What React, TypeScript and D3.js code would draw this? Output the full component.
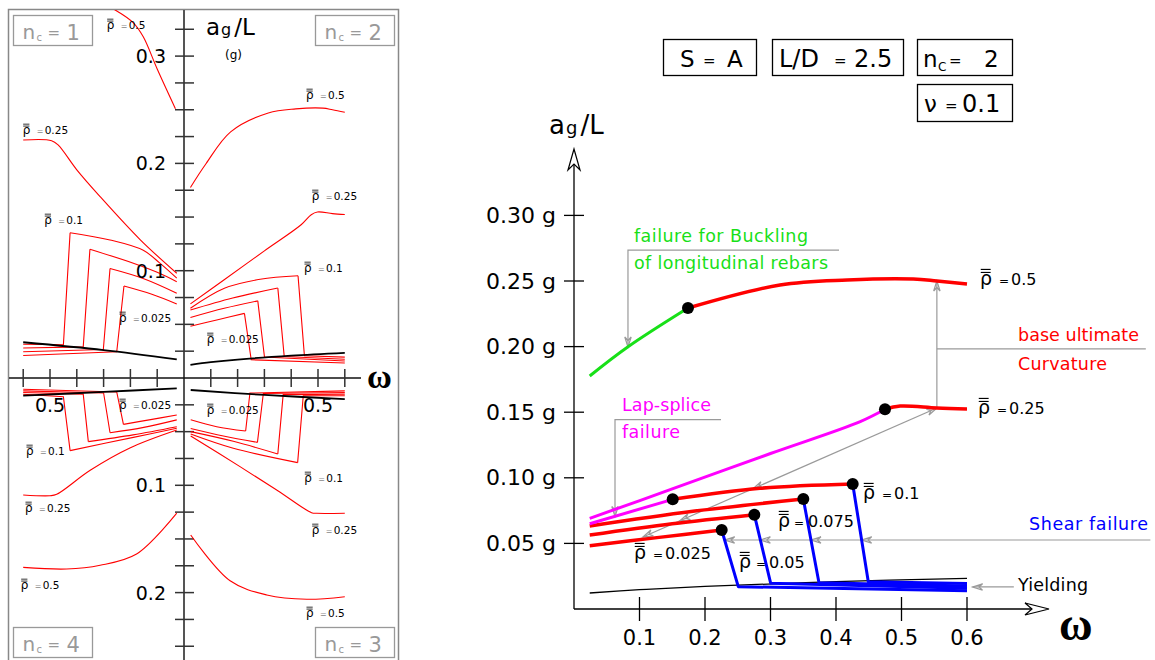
import React from 'react';
import * as d3 from 'd3';

type P = [number, number];

const SANS = '"DejaVu Sans", Verdana, sans-serif';
const SERIF = '"Liberation Serif", "DejaVu Serif", serif';
const GRAY = '#9a9a9a';
const RED = '#ff0000';
const GREEN = '#18e018';
const MAGENTA = '#ff00ff';
const BLUE = '#0000ff';

// ---------------- Right panel (S = A, L/D = 2.5, n_c = 2, nu = 0.1) ----------------
const omegaTicks = [0.1, 0.2, 0.3, 0.4, 0.5, 0.6];
const omegaTickLabels = ['0.1', '0.2', '0.3', '0.4', '0.5', '0.6'];
const agTicks = [0.05, 0.1, 0.15, 0.2, 0.25, 0.3];
const agTickLabels = ['0.05 g', '0.10 g', '0.15 g', '0.20 g', '0.25 g', '0.30 g'];

const rho05Buckling: P[] = [[0.024, 0.1776], [0.082, 0.1997], [0.174, 0.2294]];
const rho05Ultimate: P[] = [[0.174, 0.2294], [0.3145, 0.247], [0.417, 0.2508], [0.518, 0.2515], [0.554, 0.25], [0.6, 0.2477]];
const rho025Lap: P[] = [[0.024, 0.0691], [0.15, 0.0915], [0.3, 0.1185], [0.437, 0.1428], [0.4748, 0.1522]];
const rho025Ultimate: P[] = [[0.4748, 0.1522], [0.498, 0.1547], [0.554, 0.1532], [0.6, 0.1524]];
const rho01Lap: P[] = [[0.024, 0.065], [0.1507, 0.0836]];
const rho01Ultimate: P[] = [[0.1507, 0.0836], [0.284, 0.092], [0.4255, 0.0953]];
const rho0075Ultimate: P[] = [[0.024, 0.0633], [0.1817, 0.0745], [0.3501, 0.0838]];
const rho005Ultimate: P[] = [[0.024, 0.0564], [0.15, 0.065], [0.2753, 0.0719]];
const rho0025Ultimate: P[] = [[0.024, 0.0482], [0.13, 0.0546], [0.2255, 0.0602]];
const shear01: P[] = [[0.4255, 0.0953], [0.4493, 0.0208], [0.6, 0.0195]];
const shear0075: P[] = [[0.3501, 0.0838], [0.374, 0.02], [0.6, 0.0175]];
const shear005: P[] = [[0.2753, 0.0719], [0.3003, 0.0196], [0.6, 0.0158]];
const shear0025: P[] = [[0.2255, 0.0602], [0.2508, 0.017], [0.6, 0.014]];
const yieldingLine: P[] = [[0.024, 0.0122], [0.1, 0.0147], [0.2, 0.0172], [0.4, 0.0208], [0.6, 0.0234]];
const failureDots: P[] = [[0.174, 0.2294], [0.4748, 0.1522], [0.1507, 0.0836], [0.4255, 0.0953], [0.3501, 0.0838], [0.2753, 0.0719], [0.2255, 0.0602]];

// annotation anchors (data units)
const bucklingLeader: P[] = [[0.4046, 0.2736], [0.0824, 0.2736], [0.0824, 0.1997]];
const lapLeader: P[] = [[0.2244, 0.1444], [0.0626, 0.1444], [0.0626, 0.0705]];
const curvatureLeader: P[] = [[0.554, 0.1532], [0.554, 0.25]];
const curvatureShelf: P[] = [[0.554, 0.1982], [0.873, 0.1982]];
const diagonalLeader: P[] = [[0.1053, 0.0549], [0.554, 0.1532]];
const diagonalArrowOmegas = [0.1053, 0.1618, 0.2733];
const shearLeaderLevel = 0.0526;
const shearLeaderEnd = 0.88;
const yieldingArrow: P[] = [[0.6715, 0.0168], [0.6085, 0.0168]];

// ---------------- Left panel (four n_c quadrants) ----------------
const leftOmegaTicks = [0.1, 0.2, 0.3, 0.4, 0.5, 0.6];
const leftAgTicksUpper = [0.025, 0.05, 0.075, 0.1, 0.125, 0.15, 0.175, 0.2, 0.225, 0.25, 0.275, 0.3, 0.325];
const leftAgTicksLower = [0.025, 0.05, 0.075, 0.1, 0.125, 0.15, 0.175, 0.2, 0.225, 0.25];
const leftAgLabelsUpper = [0.1, 0.2, 0.3];
const leftAgLabelsLower = [0.1, 0.2];

// n_c = 1 (upper left)
const nc1Rho05: P[] = [[0.032, 0.251], [0.1, 0.288], [0.152, 0.318], [0.189, 0.331], [0.257, 0.343], [0.29, 0.347]];
const nc1Rho025: P[] = [[0.027, 0.0976], [0.164, 0.129], [0.313, 0.169], [0.4, 0.194], [0.469, 0.217], [0.494, 0.2212], [0.6, 0.2218]];
const nc1Rho01: P[] = [[0.027, 0.093], [0.09, 0.107], [0.152, 0.119], [0.276, 0.1286], [0.425, 0.1354], [0.45, 0.031], [0.6, 0.0315]];
const nc1Rho0075: P[] = [[0.027, 0.0898], [0.1, 0.0985], [0.189, 0.107], [0.351, 0.12], [0.376, 0.029], [0.6, 0.028]];
const nc1Rho005: P[] = [[0.027, 0.079], [0.15, 0.0925], [0.276, 0.102], [0.301, 0.0265], [0.6, 0.0245]];
const nc1Rho0025: P[] = [[0.027, 0.069], [0.12, 0.078], [0.224, 0.0857], [0.251, 0.0245], [0.6, 0.021]];
const nc1Yielding: P[] = [[0.027, 0.0174], [0.3, 0.026], [0.6, 0.0333]];

// n_c = 4 (lower left)
const nc4Rho05: P[] = [[0.027, 0.126], [0.177, 0.164], [0.313, 0.1745], [0.438, 0.178], [0.6, 0.1765]];
const nc4Rho025: P[] = [[0.027, 0.0485], [0.2, 0.065], [0.35, 0.086], [0.475, 0.1084], [0.5, 0.1097], [0.6, 0.109]];
const nc4Rho01: P[] = [[0.027, 0.0469], [0.189, 0.0553], [0.425, 0.0677], [0.45, 0.0174], [0.6, 0.0152]];
const nc4Rho0075: P[] = [[0.027, 0.0454], [0.19, 0.053], [0.357, 0.0593], [0.376, 0.015], [0.6, 0.0135]];
const nc4Rho005: P[] = [[0.027, 0.039], [0.15, 0.046], [0.276, 0.051], [0.3, 0.014], [0.6, 0.012]];
const nc4Rho0025: P[] = [[0.027, 0.0345], [0.13, 0.039], [0.226, 0.0432], [0.251, 0.013], [0.6, 0.0105]];
const nc4Yielding: P[] = [[0.027, 0.0096], [0.3, 0.013], [0.6, 0.0165]];

// n_c = 3 (lower right)
const nc3Rho05: P[] = [[0.025, 0.1463], [0.172, 0.189], [0.309, 0.2022], [0.458, 0.2062], [0.6, 0.2038]];
const nc3Rho025: P[] = [[0.025, 0.054], [0.209, 0.0826], [0.35, 0.105], [0.476, 0.1255], [0.495, 0.1261], [0.6, 0.126]];
const nc3Rho01: P[] = [[0.025, 0.0522], [0.184, 0.0655], [0.424, 0.0789], [0.445, 0.0165], [0.6, 0.0165]];
const nc3Rho0075: P[] = [[0.025, 0.05], [0.184, 0.059], [0.35, 0.0708], [0.37, 0.0155], [0.6, 0.015]];
const nc3Rho005: P[] = [[0.025, 0.047], [0.147, 0.054], [0.274, 0.06], [0.296, 0.0145], [0.6, 0.0135]];
const nc3Rho0025: P[] = [[0.025, 0.039], [0.122, 0.0454], [0.23, 0.0494], [0.246, 0.014], [0.6, 0.012]];
const nc3Yielding: P[] = [[0.025, 0.0112], [0.3, 0.0158], [0.6, 0.0196]];

// n_c = 2 (upper right) reuses the right-panel curves
const nc2Rho05: P[] = [...rho05Buckling, ...rho05Ultimate.slice(1)];
const nc2Rho025: P[] = [...rho025Lap, ...rho025Ultimate.slice(1)];
const nc2Rho01: P[] = [...rho01Lap, ...rho01Ultimate.slice(1), ...shear01.slice(1)];
const nc2Rho0075: P[] = [...rho0075Ultimate, ...shear0075.slice(1)];
const nc2Rho005: P[] = [...rho005Ultimate, ...shear005.slice(1)];
const nc2Rho0025: P[] = [...rho0025Ultimate, ...shear0025.slice(1)];

function arrowHead(tx: number, ty: number, angle: number, len = 10, half = 3.2) {
  const ux = Math.cos(angle), uy = Math.sin(angle);
  const px = -uy, py = ux;
  const bx = tx - ux * len, by = ty - uy * len;
  const nx = tx - ux * len * 0.65, ny = ty - uy * len * 0.65;
  return `M${bx + px * half},${by + py * half}L${tx},${ty}L${bx - px * half},${by - py * half}L${nx},${ny}Z`;
}

function Rho({ x, y, rs, vs, es, val, eqDx, valDx, eqFill = '#000' }: { x: number; y: number; rs: number; vs: number; es: number; val: string; eqDx: number; valDx: number; eqFill?: string }) {
  const w = rs * 0.56;
  return (
    <g fontFamily={SANS}>
      <text x={x} y={y} fontSize={rs}>ρ</text>
      <line x1={x + rs * 0.04} x2={x + w} y1={y - rs * 0.66} y2={y - rs * 0.66} stroke="#000" strokeWidth={Math.max(0.8, rs * 0.06)} />
      <line x1={x + rs * 0.04} x2={x + w} y1={y - rs * 0.82} y2={y - rs * 0.82} stroke="#000" strokeWidth={Math.max(0.8, rs * 0.06)} />
      <text x={x + eqDx} y={y - 0.5} fontSize={es} fill={eqFill}>=</text>
      <text x={x + valDx} y={y} fontSize={vs}>{val}</text>
    </g>
  );
}

export default function App() {
  // ---------- right panel scales ----------
  const xR = d3.scaleLinear().domain([0, 0.6]).range([574, 967]);
  const yR = d3.scaleLinear().domain([0, 0.3]).range([609, 215.4]);
  const smoothR = (pts: P[]) => d3.line<P>().x(d => xR(d[0])).y(d => yR(d[1])).curve(d3.curveCatmullRom.alpha(0.5))(pts) ?? '';
  const linR = (pts: P[]) => d3.line<P>().x(d => xR(d[0])).y(d => yR(d[1]))(pts) ?? '';

  // ---------- left panel scales ----------
  const LX0 = 184, LY0 = 378;
  const quad = (sx: number, sy: number) => ({
    x: d3.scaleLinear().domain([0, 0.6]).range([LX0, LX0 + sx * 160.8]),
    y: d3.scaleLinear().domain([0, 0.3]).range([LY0, LY0 - sy * 321.9]),
  });
  const Q1 = quad(1, 1), Q2 = quad(-1, 1), Q3 = quad(-1, -1), Q4 = quad(1, -1);
  type Q = ReturnType<typeof quad>;
  const smoothL = (q: Q, pts: P[]) => d3.line<P>().x(d => q.x(d[0])).y(d => q.y(d[1])).curve(d3.curveCatmullRom.alpha(0.5))(pts) ?? '';
  const linL = (q: Q, pts: P[]) => d3.line<P>().x(d => q.x(d[0])).y(d => q.y(d[1]))(pts) ?? '';

  const quadrants: { q: Q; rho05: P[]; rho025: P[]; hooks: P[][]; yld: P[] }[] = [
    { q: Q1, rho05: nc2Rho05, rho025: nc2Rho025, hooks: [nc2Rho01, nc2Rho0075, nc2Rho005, nc2Rho0025], yld: yieldingLine },
    { q: Q2, rho05: nc1Rho05, rho025: nc1Rho025, hooks: [nc1Rho01, nc1Rho0075, nc1Rho005, nc1Rho0025], yld: nc1Yielding },
    { q: Q3, rho05: nc4Rho05, rho025: nc4Rho025, hooks: [nc4Rho01, nc4Rho0075, nc4Rho005, nc4Rho0025], yld: nc4Yielding },
    { q: Q4, rho05: nc3Rho05, rho025: nc3Rho025, hooks: [nc3Rho01, nc3Rho0075, nc3Rho005, nc3Rho0025], yld: nc3Yielding },
  ];

  // shear leader arrow positions: where each blue shear line crosses the leader level
  const shearCross = [shear0025, shear005, shear0075, shear01].map(s => {
    const [a, b] = s;
    const t = (a[1] - shearLeaderLevel) / (a[1] - b[1]);
    return a[0] + t * (b[0] - a[0]);
  });

  const diagAngle = Math.atan2(yR(diagonalLeader[0][1]) - yR(diagonalLeader[1][1]), xR(diagonalLeader[0][0]) - xR(diagonalLeader[1][0]));
  const diagA = (w: number) => diagonalLeader[0][1] + (w - diagonalLeader[0][0]) * (diagonalLeader[1][1] - diagonalLeader[0][1]) / (diagonalLeader[1][0] - diagonalLeader[0][0]);

  const ncBox = (x: number, y: number, label: string) => (
    <g fill="#999" fontFamily={SANS}>
      <rect x={x} y={y} width={79} height={30} fill="#fff" stroke="#999" strokeWidth={1.3} />
      <text x={x + 9} y={y + 23} fontSize={20}>n</text>
      <text x={x + 23} y={y + 25} fontSize={10}>c</text>
      <text x={x + 34} y={y + 22} fontSize={15}>=</text>
      <text x={x + 53} y={y + 24} fontSize={21}>{label}</text>
    </g>
  );

  return (
    <svg width={1155} height={660} style={{ position: 'absolute', left: 0, top: 0, background: '#fff' }} fontFamily={SANS}>
      <defs>
        <clipPath id="leftClip">
          <rect x={9} y={10} width={389} height={660} />
        </clipPath>
      </defs>
      <rect x={0} y={0} width={1155} height={660} fill="#fff" />

      {/* ================= LEFT PANEL ================= */}
      <rect x={8.5} y={9.5} width={390} height={670} fill="none" stroke="#888" strokeWidth={1.5} />
      <g clipPath="url(#leftClip)">
        {/* axes */}
        <line x1={LX0} x2={LX0} y1={9} y2={660} stroke="#555" strokeWidth={2} />
        <line x1={8} x2={361} y1={LY0} y2={LY0} stroke="#111" strokeWidth={1.5} />
        {leftAgTicksUpper.map(a => (
          <line key={'tu' + a} x1={175} x2={194} y1={Q1.y(a)} y2={Q1.y(a)} stroke="#333" strokeWidth={1.5} />
        ))}
        {leftAgTicksLower.map(a => (
          <line key={'tl' + a} x1={175} x2={194} y1={Q4.y(a)} y2={Q4.y(a)} stroke="#333" strokeWidth={1.5} />
        ))}
        {leftOmegaTicks.map(w => (
          <g key={'wt' + w}>
            <line x1={Q1.x(w)} x2={Q1.x(w)} y1={369} y2={387} stroke="#333" strokeWidth={1.5} />
            <line x1={Q2.x(w)} x2={Q2.x(w)} y1={369} y2={387} stroke="#333" strokeWidth={1.5} />
          </g>
        ))}
        {/* curves */}
        {quadrants.map((qd, i) => (
          <g key={'q' + i} fill="none">
            <path d={smoothL(qd.q, qd.rho05)} stroke={RED} strokeWidth={1.1} />
            <path d={smoothL(qd.q, qd.rho025)} stroke={RED} strokeWidth={1.1} />
            {qd.hooks.map((h, j) => (
              <g key={'h' + j}>
                <path d={smoothL(qd.q, h.slice(0, h.length - 2))} stroke={RED} strokeWidth={1.1} />
                <path d={linL(qd.q, h.slice(h.length - 3))} stroke={RED} strokeWidth={1.1} />
              </g>
            ))}
            <path d={smoothL(qd.q, qd.yld)} stroke="#000" strokeWidth={1.8} />
          </g>
        ))}
        {/* tick labels */}
        {leftAgLabelsUpper.map(a => (
          <text key={'lu' + a} x={166} y={Q1.y(a) + 7} fontSize={19} textAnchor="end">{a.toFixed(1)}</text>
        ))}
        {leftAgLabelsLower.map(a => (
          <text key={'ll' + a} x={166} y={Q4.y(a) + 7} fontSize={19} textAnchor="end">{a.toFixed(1)}</text>
        ))}
        <text x={Q2.x(0.5)} y={412} fontSize={19} textAnchor="middle">0.5</text>
        <text x={Q1.x(0.5)} y={412} fontSize={19} textAnchor="middle">0.5</text>
        <text x={367} y={388} fontSize={34} fontFamily={SERIF} fontWeight="bold">ω</text>

        {/* title a_g / L */}
        <text x={206} y={35} fontSize={23}>a<tspan fontSize={16} dx={1}>g</tspan><tspan fontSize={23} dx={3}>/L</tspan></text>
        <text x={225} y={59} fontSize={12}>(g)</text>

        {/* rho labels */}
        <Rho x={106.7} y={29} rs={12} vs={10.5} es={8} eqFill="#888" eqDx={14} valDx={22} val="0.5" />
        <Rho x={22.7} y={134} rs={12} vs={10.5} es={8} eqFill="#888" eqDx={14} valDx={22} val="0.25" />
        <Rho x={44.3} y={224} rs={12} vs={10.5} es={8} eqFill="#888" eqDx={14} valDx={22} val="0.1" />
        <Rho x={119} y={322} rs={12} vs={10.5} es={8} eqFill="#888" eqDx={14} valDx={22} val="0.025" />
        <Rho x={306} y={99} rs={12} vs={10.5} es={8} eqFill="#888" eqDx={14} valDx={22} val="0.5" />
        <Rho x={311.7} y={200} rs={12} vs={10.5} es={8} eqFill="#888" eqDx={14} valDx={22} val="0.25" />
        <Rho x={304} y={272} rs={12} vs={10.5} es={8} eqFill="#888" eqDx={14} valDx={22} val="0.1" />
        <Rho x={206.7} y={343} rs={12} vs={10.5} es={8} eqFill="#888" eqDx={14} valDx={22} val="0.025" />
        <Rho x={119} y={409} rs={12} vs={10.5} es={8} eqFill="#888" eqDx={14} valDx={22} val="0.025" />
        <Rho x={206.7} y={414} rs={12} vs={10.5} es={8} eqFill="#888" eqDx={14} valDx={22} val="0.025" />
        <Rho x={26} y={455} rs={12} vs={10.5} es={8} eqFill="#888" eqDx={14} valDx={22} val="0.1" />
        <Rho x={25} y={512} rs={12} vs={10.5} es={8} eqFill="#888" eqDx={14} valDx={22} val="0.25" />
        <Rho x={20.7} y={589} rs={12} vs={10.5} es={8} eqFill="#888" eqDx={14} valDx={22} val="0.5" />
        <Rho x={304.3} y={482} rs={12} vs={10.5} es={8} eqFill="#888" eqDx={14} valDx={22} val="0.1" />
        <Rho x={311.7} y={534} rs={12} vs={10.5} es={8} eqFill="#888" eqDx={14} valDx={22} val="0.25" />
        <Rho x={306} y={617} rs={12} vs={10.5} es={8} eqFill="#888" eqDx={14} valDx={22} val="0.5" />

        {ncBox(13.5, 15.5, '1')}
        {ncBox(315.5, 15.5, '2')}
        {ncBox(13.5, 627.5, '4')}
        {ncBox(315.5, 627.5, '3')}
      </g>

      {/* ================= RIGHT PANEL ================= */}
      {/* parameter boxes */}
      <g fontFamily={SANS} fill="#000">
        <rect x={663.5} y={39.5} width={93} height={36} fill="none" stroke="#000" strokeWidth={1.3} />
        <text x={680} y={67} fontSize={23}>S</text>
        <text x={703} y={66} fontSize={15}>=</text>
        <text x={727} y={67} fontSize={23}>A</text>
        <rect x={772.5} y={39.5} width={131} height={36} fill="none" stroke="#000" strokeWidth={1.3} />
        <text x={779} y={67} fontSize={24}>L/D</text>
        <text x={834} y={66} fontSize={15}>=</text>
        <text x={854} y={67} fontSize={24}>2.5</text>
        <rect x={917.5} y={39.5} width={95} height={36} fill="none" stroke="#000" strokeWidth={1.3} />
        <text x={923} y={67} fontSize={23}>n</text>
        <text x={938} y={71} fontSize={12}>C</text>
        <text x={949} y={66} fontSize={15}>=</text>
        <text x={984} y={67} fontSize={23}>2</text>
        <rect x={917.5} y={84.5} width={95} height={37} fill="none" stroke="#000" strokeWidth={1.3} />
        <text x={924} y={112} fontSize={23}>ν</text>
        <text x={945} y={111} fontSize={15}>=</text>
        <text x={962} y={112} fontSize={24}>0.1</text>
      </g>

      {/* axes */}
      <line x1={xR(0)} x2={xR(0)} y1={yR(0)} y2={162} stroke="#000" strokeWidth={1.3} />
      <path d={`M${xR(0)},149L${xR(0) - 6},170L${xR(0)},164L${xR(0) + 6},170Z`} fill="#fff" stroke="#000" strokeWidth={1.2} />
      <line x1={xR(0)} x2={1035} y1={yR(0)} y2={yR(0)} stroke="#000" strokeWidth={1.3} />
      <path d={`M1049,${yR(0)}L1025,${yR(0) - 6}L1032,${yR(0)}L1025,${yR(0) + 6}Z`} fill="#fff" stroke="#000" strokeWidth={1.2} />
      {agTicks.map((a, i) => (
        <g key={'ra' + a}>
          <line x1={564} x2={584} y1={yR(a)} y2={yR(a)} stroke="#000" strokeWidth={1.3} />
          <text x={556} y={yR(a) + 7.5} fontSize={22} textAnchor="end">{agTickLabels[i]}</text>
        </g>
      ))}
      {omegaTicks.map((w, i) => (
        <g key={'rw' + w}>
          <line x1={xR(w)} x2={xR(w)} y1={597} y2={621} stroke="#000" strokeWidth={1.3} />
          <text x={xR(w)} y={645} fontSize={21} textAnchor="middle">{omegaTickLabels[i]}</text>
        </g>
      ))}
      <text x={549} y={134} fontSize={26}>a<tspan fontSize={18} dx={1}>g</tspan><tspan fontSize={26} dx={3}>/L</tspan></text>
      <text x={1059} y={640} fontSize={46} fontFamily={SERIF} fontWeight="bold">ω</text>

      {/* gray leaders */}
      <g stroke={GRAY} strokeWidth={1.2} fill="none">
        <path d={linR(bucklingLeader)} />
        <path d={arrowHead(xR(bucklingLeader[2][0]), yR(bucklingLeader[2][1]), Math.PI / 2)} />
        <path d={linR(lapLeader)} />
        <path d={arrowHead(xR(lapLeader[2][0]), yR(lapLeader[2][1]), Math.PI / 2)} />
        <path d={linR(curvatureLeader)} />
        <path d={arrowHead(xR(curvatureLeader[1][0]), yR(curvatureLeader[1][1]), -Math.PI / 2)} />
        <path d={linR(curvatureShelf)} />
        <path d={linR(diagonalLeader)} />
        <path d={arrowHead(xR(diagonalLeader[1][0]), yR(diagonalLeader[1][1]), diagAngle + Math.PI)} />
        {diagonalArrowOmegas.map(w => (
          <path key={'da' + w} d={arrowHead(xR(w), yR(diagA(w)), diagAngle)} />
        ))}
        <path d={linR([[shearCross[0], shearLeaderLevel], [shearLeaderEnd, shearLeaderLevel]])} />
        {shearCross.map(w => (
          <path key={'sa' + w} d={arrowHead(xR(w), yR(shearLeaderLevel), Math.PI)} />
        ))}
        <path d={linR(yieldingArrow)} />
        <path d={arrowHead(xR(yieldingArrow[1][0]), yR(yieldingArrow[1][1]), Math.PI)} />
      </g>

      {/* curves */}
      <g fill="none" strokeLinejoin="round">
        <path d={smoothR(yieldingLine)} stroke="#000" strokeWidth={1.3} />
        {[shear0025, shear005, shear0075, shear01].map((s, i) => (
          <path key={'sh' + i} d={linR(s)} stroke={BLUE} strokeWidth={3} />
        ))}
        <path d={smoothR(rho05Buckling)} stroke={GREEN} strokeWidth={3} />
        <path d={smoothR(rho05Ultimate)} stroke={RED} strokeWidth={3.5} />
        <path d={smoothR(rho025Lap)} stroke={MAGENTA} strokeWidth={3} />
        <path d={smoothR(rho025Ultimate)} stroke={RED} strokeWidth={3.5} />
        <path d={smoothR(rho0025Ultimate)} stroke={RED} strokeWidth={3.5} />
        <path d={smoothR(rho005Ultimate)} stroke={RED} strokeWidth={3.5} />
        <path d={smoothR(rho0075Ultimate)} stroke={RED} strokeWidth={3.5} />
        <path d={smoothR(rho01Ultimate)} stroke={RED} strokeWidth={3.5} />
        <path d={smoothR(rho01Lap)} stroke={MAGENTA} strokeWidth={3} />
      </g>
      {failureDots.map((d, i) => (
        <circle key={'dot' + i} cx={xR(d[0])} cy={yR(d[1])} r={6} fill="#000" />
      ))}

      {/* rho labels right */}
      <Rho x={980} y={285} rs={19} vs={16} es={12} eqDx={19} valDx={31} val="0.5" />
      <Rho x={978} y={414} rs={19} vs={16} es={12} eqDx={19} valDx={31} val="0.25" />
      <Rho x={863} y={499} rs={19} vs={16} es={12} eqDx={19} valDx={31} val="0.1" />
      <Rho x={778} y={527} rs={19} vs={16} es={12} eqDx={16} valDx={30} val="0.075" />
      <Rho x={739} y={568} rs={19} vs={16} es={12} eqDx={17} valDx={30} val="0.05" />
      <Rho x={634} y={559} rs={19} vs={16} es={12} eqDx={19} valDx={31} val="0.025" />

      {/* annotation texts */}
      <g fontSize={17.5} fontFamily={SANS}>
        <text x={634} y={242} fill={GREEN} textLength={174} lengthAdjust="spacing">failure for Buckling</text>
        <text x={634} y={269} fill={GREEN} textLength={194} lengthAdjust="spacing">of longitudinal rebars</text>
        <text x={622} y={411} fill={MAGENTA} textLength={89} lengthAdjust="spacing">Lap-splice</text>
        <text x={622} y={438} fill={MAGENTA} textLength={58} lengthAdjust="spacing">failure</text>
        <text x={1018} y={341} fill={RED} textLength={121} lengthAdjust="spacing">base ultimate</text>
        <text x={1018} y={370} fill={RED} textLength={89} lengthAdjust="spacing">Curvature</text>
        <text x={1029} y={530} fill={BLUE} textLength={119} lengthAdjust="spacing">Shear failure</text>
        <text x={1018} y={591} fill="#000" textLength={70} lengthAdjust="spacing">Yielding</text>
      </g>
    </svg>
  );
}
